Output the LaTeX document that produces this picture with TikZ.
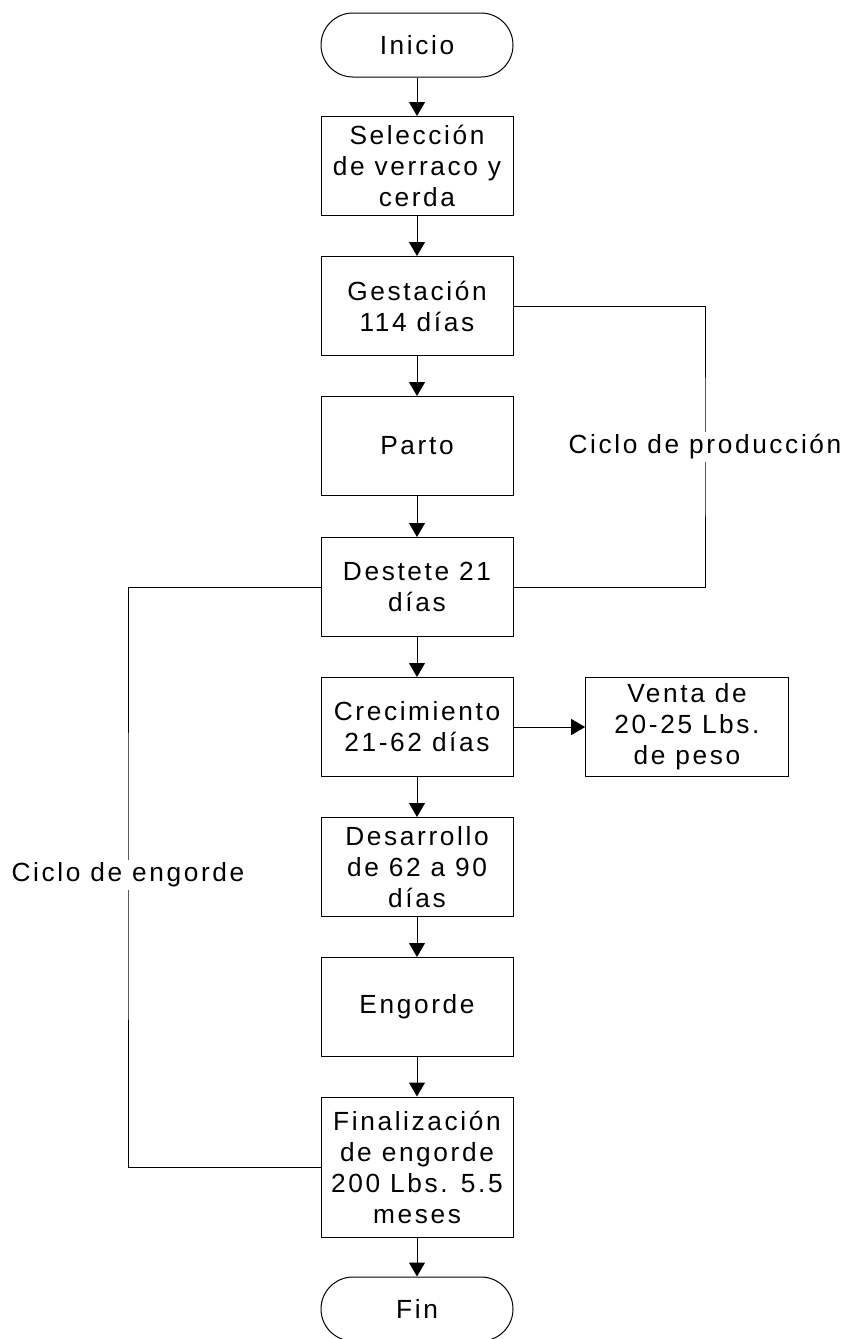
\documentclass[tikz,border=0pt]{standalone}
\usepackage{fontspec}
\setmainfont{Liberation Sans}[LetterSpace=10]
\usetikzlibrary{arrows.meta}
\begin{document}
\begin{tikzpicture}[x=0.75pt,y=-0.75pt,%
% common options for the process boxes:
block/.style = {draw, line width=0.75pt, align=center, inner sep=0,
            minimum width=144pt, minimum height=74.25pt},
% start and end:
term/.style = {block, rounded corners=24pt, minimum height=48pt},
% loop labels:
cycle/.style = {fill=white, inner sep=2pt},
flow/.style = {line width=0.75pt, -{Triangle[width=12pt,length=10.5pt]}},
font=\fontsize{19.7}{23.25}\selectfont]
\useasboundingbox (0,0) rectangle (848,1339);
\node[term] (P0) at (417,45) {Inicio};
\node[block] (P1) at (417,166) {Selección\\de verraco y\\cerda};
\node[block] (P2) at (417,306) {Gestación\\114 días};
\node[block] (P3) at (417,446) {Parto};
\node[block] (P4) at (417,587) {Destete 21\\días};
\node[block] (P5) at (417,727) {Crecimiento\\21-62 días};
\node[block,minimum width=152pt] (V1) at (687,727) {Venta de\\20-25 Lbs.\\de peso};
\node[block] (P6) at (417,867) {Desarrollo\\de 62 a 90\\días};
\node[block] (P7) at (417,1007) {Engorde};
\node[block,minimum height=105pt] (P8) at (417,1167) {Finalización\\de engorde\\200 Lbs. 5.5\\meses};
\node[term] (P9) at (417,1309) {Fin};
\draw[flow] (P0) -- (P1);
\draw[flow] (P1) -- (P2);
\draw[flow] (P2) -- (P3);
\draw[flow] (P3) -- (P4);
\draw[flow] (P4) -- (P5);
\draw[flow] (P5) -- (V1);
\draw[flow] (P5) -- (P6);
\draw[flow] (P6) -- (P7);
\draw[flow] (P7) -- (P8);
\draw[flow] (P8) -- (P9);
% the two cycles
\coordinate (C1) at (705,447);
\coordinate (C2) at (128,875);
\draw[line width=0.75pt] (P2.east) -| (C1) |- (P4.east);
\draw[line width=0.75pt] (P4.west) -| (C2) |- (P8.west);
\node[cycle] (L1) at (C1) {Ciclo de producción};
\node[cycle] (L2) at (C2) {Ciclo de engorde};
\end{tikzpicture}
\end{document}
